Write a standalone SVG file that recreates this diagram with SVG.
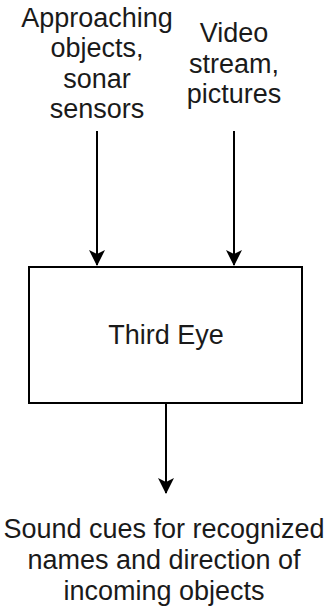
<svg xmlns="http://www.w3.org/2000/svg" width="330" height="609" viewBox="0 0 330 609">
  <style>
    .lbl { font-family: "Liberation Sans", Arial, sans-serif; font-size: 27px; fill: #1a1a1a; text-anchor: middle; }
    .edge { stroke: #000; stroke-width: 2; fill: none; }
  </style>
  <defs>
    <marker id="arrow" viewBox="0 0 16 16" refX="15" refY="8" markerWidth="16" markerHeight="16" markerUnits="userSpaceOnUse" orient="auto">
      <path d="M0,0 L16,8 L0,16 L4,8 Z" fill="#000"/>
    </marker>
  </defs>
  <rect width="330" height="609" fill="#fff"/>

  <g id="connectors">
    <line class="edge" x1="97" y1="131" x2="97" y2="265" marker-end="url(#arrow)"/>
    <line class="edge" x1="234" y1="131" x2="234" y2="265" marker-end="url(#arrow)"/>
    <line class="edge" x1="166" y1="404" x2="166" y2="493" marker-end="url(#arrow)"/>
  </g>

  <g id="input-sonar">
    <text class="lbl" x="97" y="27">Approaching</text>
    <text class="lbl" x="97" y="57">objects,</text>
    <text class="lbl" x="97" y="88">sonar</text>
    <text class="lbl" x="97" y="118">sensors</text>
  </g>

  <g id="input-video">
    <text class="lbl" x="234" y="42">Video</text>
    <text class="lbl" x="234" y="73">stream,</text>
    <text class="lbl" x="234" y="103">pictures</text>
  </g>

  <g id="third-eye">
    <rect x="29" y="267" width="273" height="136" fill="#fff" stroke="#000" stroke-width="2"/>
    <text class="lbl" x="166" y="344">Third Eye</text>
  </g>

  <g id="output-sound">
    <text class="lbl" x="164" y="538">Sound cues for recognized</text>
    <text class="lbl" x="164" y="569">names and direction of</text>
    <text class="lbl" x="164" y="600">incoming objects</text>
  </g>
</svg>
